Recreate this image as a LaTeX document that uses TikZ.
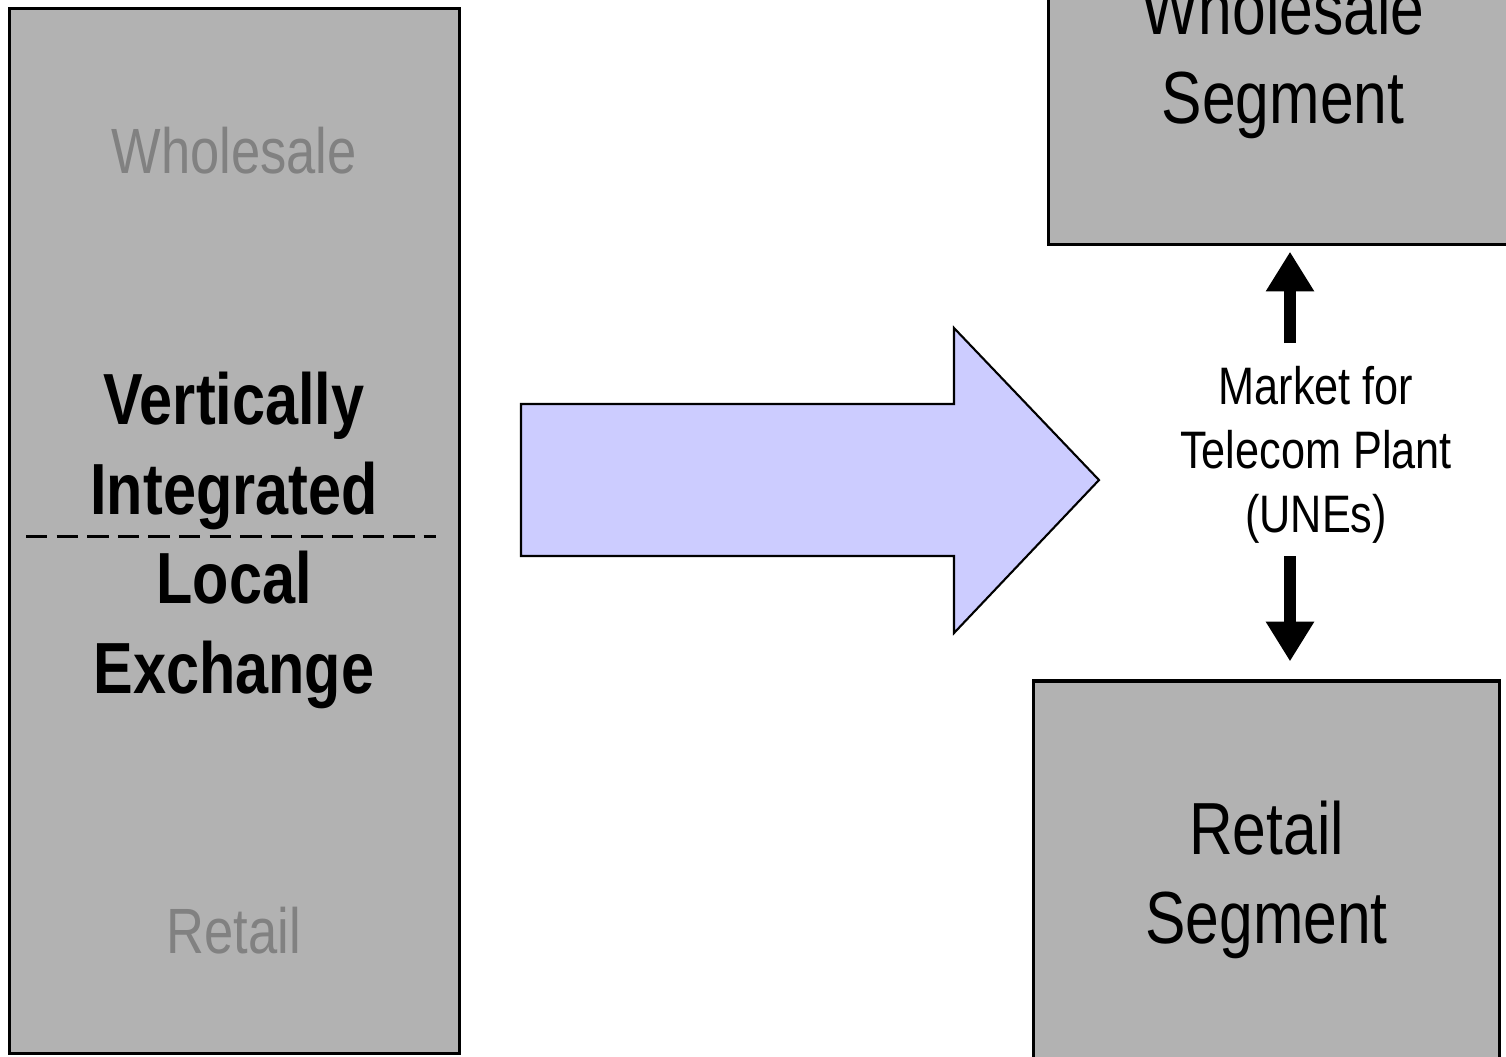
\documentclass[tikz,border=0pt]{standalone}
\usepackage{fontspec}
\setmainfont{Liberation Sans}[FakeStretch=0.82]
\usetikzlibrary{arrows.meta}
\usetikzlibrary{positioning}

\definecolor{boxgray}{HTML}{B2B2B2}
\definecolor{fadegray}{HTML}{818181}
\definecolor{shiftblue}{HTML}{CCCCFF}

\tikzset{
    segbox/.style={draw, line width=0.9pt, fill=boxgray, inner sep=0pt, align=center},
    fadetext/.style={text=fadegray, font=\fontsize{18.2}{22}\selectfont},
    bigtext/.style={align=center, font=\bfseries\fontsize{20.6}{25.5}\selectfont},
    segtext/.style={font=\fontsize{21}{25.5}\selectfont},
    blkarrow/.style={line width=3.4pt, -{Triangle[width=13pt,length=11.3pt]}}
}

\begin{document}
\begin{tikzpicture}[x=0.01cm,y=-0.01cm]
            \clip (0,0) rectangle (1506,1056);
            \fill[white] (0,0) rectangle (1506,1056);
            % integrated firm
            \node[segbox, minimum width=4.49cm, minimum height=10.44cm] (lec) at (234.5,531) {};
            \node[fadetext] (whl) at (234,151) {Wholesale};
            \node[fadetext] (rtl) at (234,931) {Retail};
            \node[bigtext] (vi) at (234,451) {Vertically\\Integrated};
            \node[bigtext] (le) at (234,630) {Local\\Exchange};
            \coordinate (dl) at (26,536);
            \coordinate (dr) at (436,536);
            \draw[line width=0.85pt, dash pattern=on 6.1pt off 2.6pt] (dl) -- (dr);
            % unbundling
            \draw[fill=shiftblue, line width=0.6pt] (521,404) -- (954,404) --
            (954,328) -- (1099,480) -- (954,633) -- (954,556) -- (521,556) -- cycle;
            % separated segments
            \node[segbox, segtext, minimum width=4.68cm, minimum height=3.68cm] (wsb) at (1283,60) {Wholesale\\Segment};
            \node[segbox, segtext, minimum width=4.65cm, minimum height=3.78cm] (rsb) at (1266.5,870) {};
            \node[segtext, align=center] (rst) at (1266.5,880) {Retail\\Segment};
            \node[align=center, font=\fontsize{15}{18.2}\selectfont] (mkt) at (1316,455) {Market for\\Telecom Plant\\(UNEs)};
            \coordinate (upfoot) at (1290,343);
            \coordinate (dnfoot) at (1290,556);
            \draw[blkarrow, shorten >=1.7pt] (upfoot) -- (upfoot |- wsb.south);
            \draw[blkarrow, shorten >=5.1pt] (dnfoot) -- (dnfoot |- rsb.north);
        \end{tikzpicture}
\end{document}
